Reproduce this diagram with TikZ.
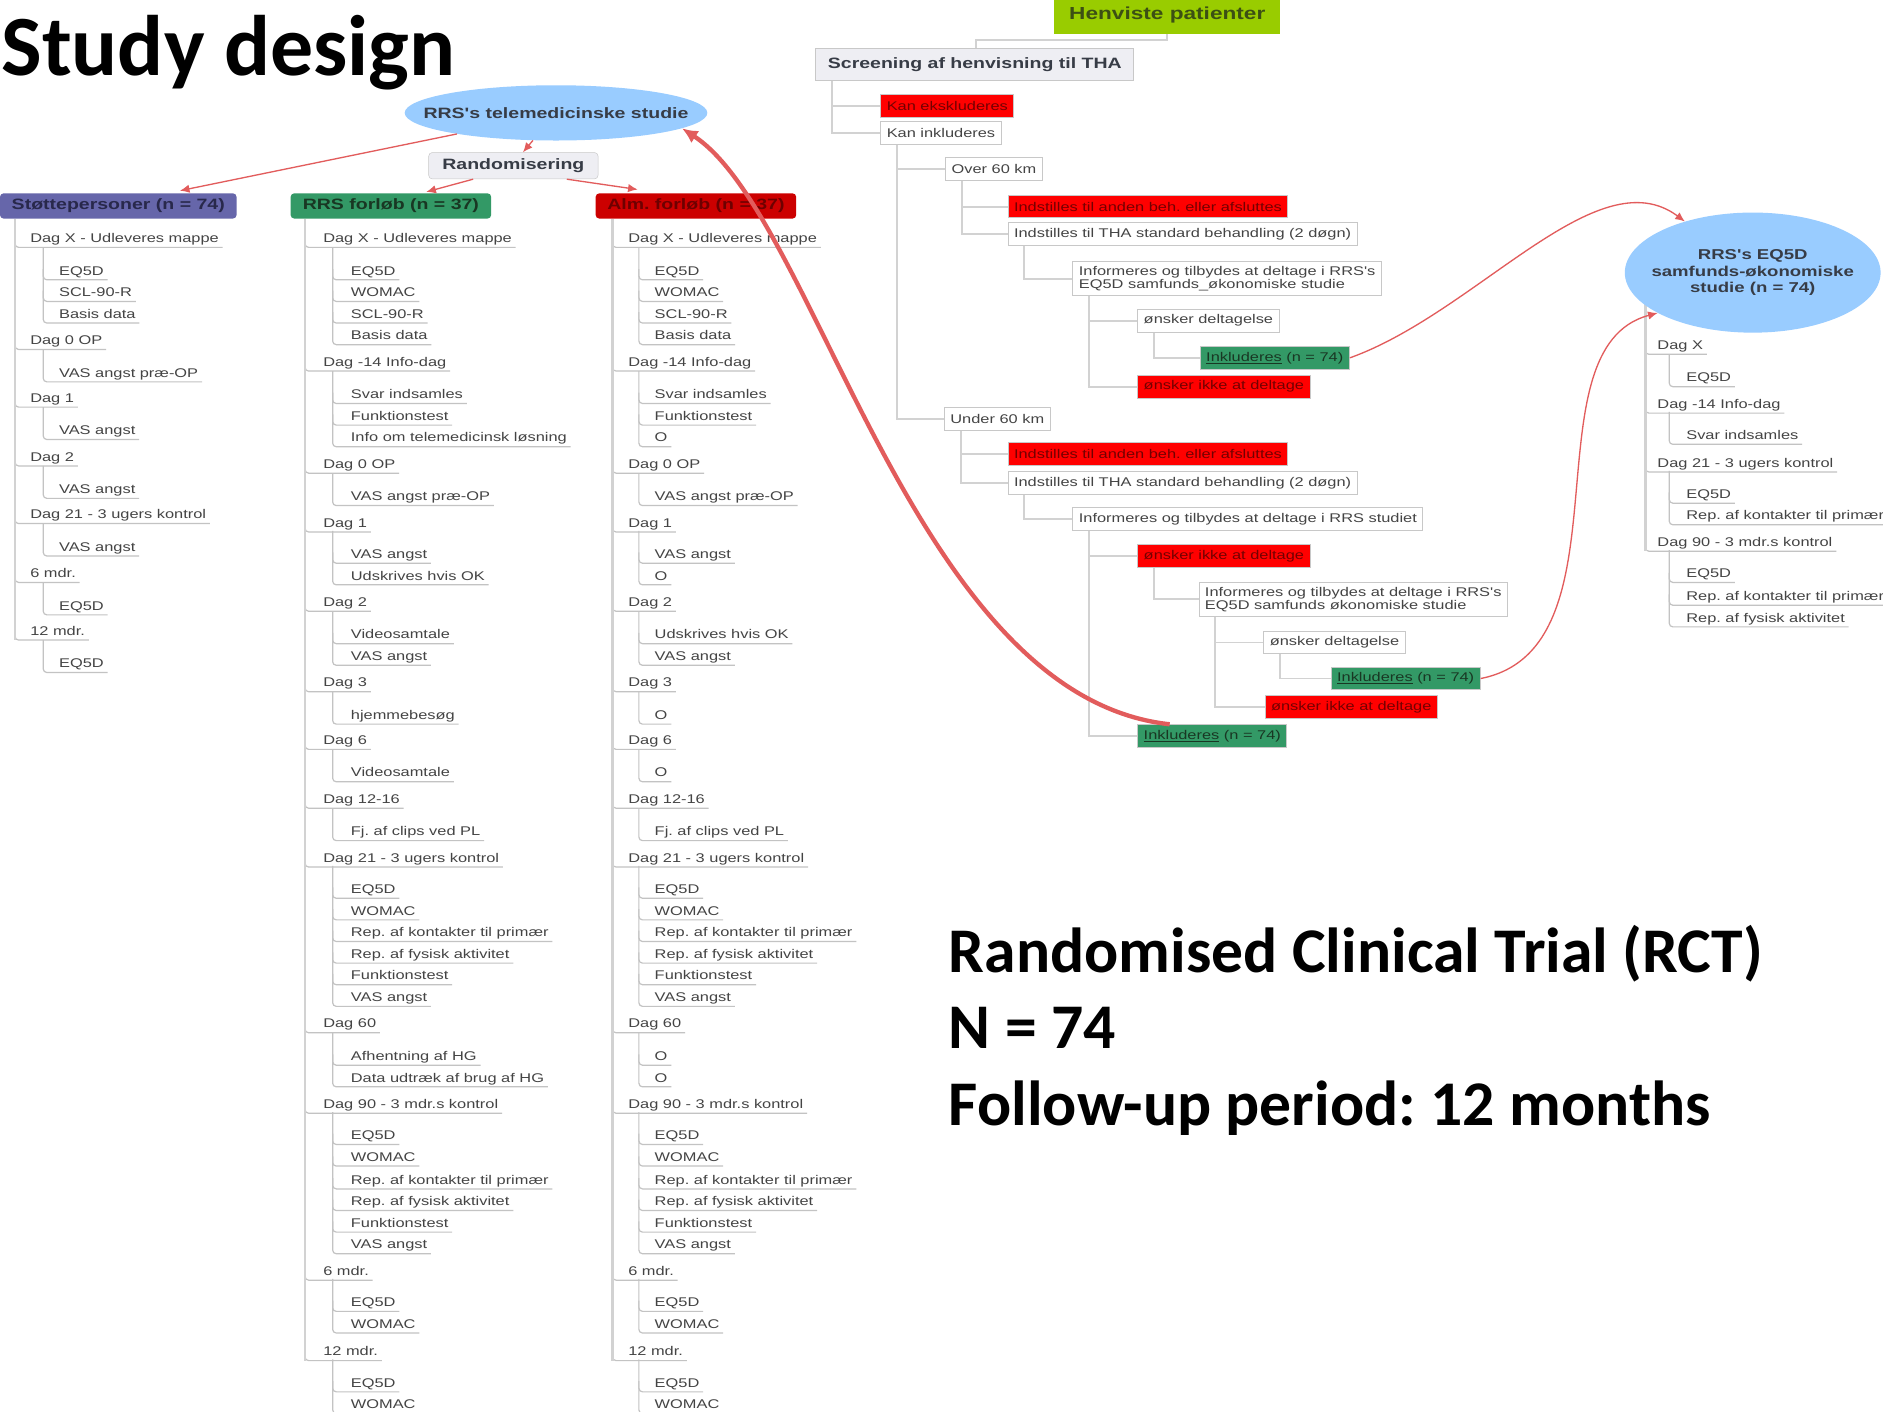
\documentclass[tikz,border=0pt]{standalone}
\usepackage{fontspec}
\setmainfont{Liberation Sans}
\newfontfamily\mf[FakeStretch=1.3]{Liberation Sans}
\newfontfamily\tf{Carlito}
\usetikzlibrary{shapes.geometric,arrows.meta}
\frenchspacing
\definecolor{txtg}{RGB}{68,68,68}
\definecolor{txtd}{RGB}{55,60,70}
\definecolor{lineg}{RGB}{195,195,195}
\definecolor{vg}{RGB}{210,210,210}
\definecolor{boxg}{RGB}{200,200,200}
\definecolor{skyb}{RGB}{153,204,255}
\definecolor{purp}{RGB}{102,102,170}
\definecolor{purpt}{RGB}{40,40,75}
\definecolor{grn}{RGB}{51,153,102}
\definecolor{grnt}{RGB}{25,55,35}
\definecolor{dred}{RGB}{204,0,0}
\definecolor{dredt}{RGB}{110,0,0}
\definecolor{lime}{RGB}{153,204,0}
\definecolor{limet}{RGB}{60,80,20}
\definecolor{redf}{RGB}{255,0,0}
\definecolor{redt}{RGB}{115,0,0}
\definecolor{arr}{RGB}{226,92,92}
\definecolor{pale}{RGB}{238,238,243}

\newcommand\Itm[6]{%
  \node[itm] (#1) at (#3,#4+4) {#5};
  \coordinate (#1c) at (#2,#4+8);
  \draw[uline] (#2,#4-#6) -- (#1c) -- (#1c -| #1.east);}
\newcommand\setcol[4]{\def\cvA{#1}\def\ctA{#2}\def\cvB{#3}\def\ctB{#4}}
\newcommand\LA[3]{\Itm{#1}{\cvA}{\ctA}{#2}{#3}{10}}
\newcommand\LB[3]{\Itm{#1}{\cvB}{\ctB}{#2}{#3}{19}}
\newcommand\Con[2]{\draw[tline] ([xshift=14pt]#1.south west) |- (#2.west);}

\begin{document}
\begin{tikzpicture}[x=1pt,y=-1pt,
  itm/.style={font=\mf\fontsize{10.5}{12}\selectfont, text=txtg, inner xsep=3pt, inner ysep=0pt, anchor=base west},
  uline/.style={draw=lineg, line width=1pt, rounded corners=3pt},
  vline/.style={draw=vg, line width=2.4pt},
  tline/.style={draw=vg, line width=1.6pt},
  bx/.style={draw=boxg, line width=0.8pt, fill=white, font=\mf\fontsize{10.5}{11}\selectfont, text=txtg, inner xsep=5pt, inner ysep=4pt, minimum height=19pt, anchor=west, align=left},
  rbx/.style={bx, fill=redf, text=redt},
  gbx/.style={bx, fill=grn, text=grnt},
  hdr/.style={rounded corners=3pt, minimum height=21pt, inner sep=0pt, font=\mf\bfseries\fontsize{12.5}{14}\selectfont},
  thinarr/.style={draw=arr, line width=1.1pt, -{Latex[length=8pt,width=7pt]}},
  thickarr/.style={draw=arr, line width=3.6pt, -{Latex[length=13pt,width=12pt]}},
  big/.style={anchor=base west, inner sep=0pt, font=\tf\bfseries\fontsize{53}{60}\selectfont, text=black}
]
\fill[white] (0,0) rectangle (1568,1175);
\useasboundingbox (0,0) rectangle (1568,1175);

% title
\node[anchor=base west,inner sep=0pt,font=\tf\bfseries\fontsize{71.5}{72}\selectfont] (title) at (1,63) {Study design};

% ---------------- left mind map ----------------
\node[ellipse, fill=skyb, minimum width=252pt, minimum height=46pt, inner sep=0pt] (tele) at (463,94) {};
\node[font=\mf\bfseries\fontsize{12.5}{14}\selectfont, text=txtd, inner sep=0pt] (telet) at (tele.center) {RRS's telemedicinske studie};
\node[draw=boxg, fill=pale, rounded corners=3pt, minimum width=141pt, minimum height=22pt, inner sep=0pt, font=\mf\bfseries\fontsize{12.5}{14}\selectfont, text=txtd] (rand) at (427.5,138) {Randomisering};

\node[hdr, fill=purp, text=purpt, minimum width=197pt] (h1) at (98.5,171.5) {Støttepersoner (n = 74)};
\node[hdr, fill=grn, text=grnt, minimum width=167pt] (h2) at (325.5,171.5) {RRS forløb (n = 37)};
\node[hdr, fill=dred, text=dredt, minimum width=167pt] (h3) at (579.5,171.5) {Alm. forløb (n = 37)};

% column 1
\setcol{12.5}{22}{36}{46}
\LA{a1}{198}{Dag X - Udleveres mappe}
\LB{a2}{225}{EQ5D}
\LB{a3}{243}{SCL-90-R}
\LB{a4}{261}{Basis data}
\LA{a5}{283}{Dag 0 OP}
\LB{a6}{310}{VAS angst præ-OP}
\LA{a7}{331}{Dag 1}
\LB{a8}{358}{VAS angst}
\LA{a9}{380}{Dag 2}
\LB{a10}{407}{VAS angst}
\LA{a11}{428}{Dag 21 - 3 ugers kontrol}
\LB{a12}{455}{VAS angst}
\LA{a13}{477}{6 mdr.}
\LB{a14}{504}{EQ5D}
\LA{a15}{525}{12 mdr.}
\LB{a16}{552}{EQ5D}
\draw[vline] (h1.south -| a1c) -- (a15c);

% column 2
\setcol{254}{266}{277}{289}
\LA{b1}{198}{Dag X - Udleveres mappe}
\LB{b2}{225}{EQ5D}
\LB{b3}{243}{WOMAC}
\LB{b4}{261}{SCL-90-R}
\LB{b5}{279}{Basis data}
\LA{b6}{301}{Dag -14 Info-dag}
\LB{b7}{328}{Svar indsamles}
\LB{b8}{346}{Funktionstest}
\LB{b9}{364}{Info om telemedicinsk løsning}
\LA{b10}{386}{Dag 0 OP}
\LB{b11}{413}{VAS angst præ-OP}
\LA{b12}{435}{Dag 1}
\LB{b13}{461}{VAS angst}
\LB{b14}{479}{Udskrives hvis OK}
\LA{b15}{501}{Dag 2}
\LB{b16}{528}{Videosamtale}
\LB{b17}{546}{VAS angst}
\LA{b18}{568}{Dag 3}
\LB{b19}{595}{hjemmebesøg}
\LA{b20}{616}{Dag 6}
\LB{b21}{643}{Videosamtale}
\LA{b22}{665}{Dag 12-16}
\LB{b23}{692}{Fj. af clips ved PL}
\LA{b24}{714}{Dag 21 - 3 ugers kontrol}
\LB{b25}{740}{EQ5D}
\LB{b26}{758}{WOMAC}
\LB{b27}{776}{Rep. af kontakter til primær}
\LB{b28}{794}{Rep. af fysisk aktivitet}
\LB{b29}{812}{Funktionstest}
\LB{b30}{830}{VAS angst}
\LA{b31}{852}{Dag 60}
\LB{b32}{879}{Afhentning af HG}
\LB{b33}{897}{Data udtræk af brug af HG}
\LA{b34}{919}{Dag 90 - 3 mdr.s kontrol}
\LB{b35}{945}{EQ5D}
\LB{b36}{963}{WOMAC}
\LB{b37}{982}{Rep. af kontakter til primær}
\LB{b38}{1000}{Rep. af fysisk aktivitet}
\LB{b39}{1018}{Funktionstest}
\LB{b40}{1036}{VAS angst}
\LA{b41}{1058}{6 mdr.}
\LB{b42}{1084}{EQ5D}
\LB{b43}{1102}{WOMAC}
\LA{b44}{1125}{12 mdr.}
\LB{b45}{1151}{EQ5D}
\LB{b46}{1169}{WOMAC}
\draw[vline] (h2.south -| b1c) -- (b44c);

% column 3
\setcol{510}{520}{532}{542}
\LA{c1}{198}{Dag X - Udleveres mappe}
\LB{c2}{225}{EQ5D}
\LB{c3}{243}{WOMAC}
\LB{c4}{261}{SCL-90-R}
\LB{c5}{279}{Basis data}
\LA{c6}{301}{Dag -14 Info-dag}
\LB{c7}{328}{Svar indsamles}
\LB{c8}{346}{Funktionstest}
\LB{c9}{364}{O}
\LA{c10}{386}{Dag 0 OP}
\LB{c11}{413}{VAS angst præ-OP}
\LA{c12}{435}{Dag 1}
\LB{c13}{461}{VAS angst}
\LB{c14}{479}{O}
\LA{c15}{501}{Dag 2}
\LB{c16}{528}{Udskrives hvis OK}
\LB{c17}{546}{VAS angst}
\LA{c18}{568}{Dag 3}
\LB{c19}{595}{O}
\LA{c20}{616}{Dag 6}
\LB{c21}{643}{O}
\LA{c22}{665}{Dag 12-16}
\LB{c23}{692}{Fj. af clips ved PL}
\LA{c24}{714}{Dag 21 - 3 ugers kontrol}
\LB{c25}{740}{EQ5D}
\LB{c26}{758}{WOMAC}
\LB{c27}{776}{Rep. af kontakter til primær}
\LB{c28}{794}{Rep. af fysisk aktivitet}
\LB{c29}{812}{Funktionstest}
\LB{c30}{830}{VAS angst}
\LA{c31}{852}{Dag 60}
\LB{c32}{879}{O}
\LB{c33}{897}{O}
\LA{c34}{919}{Dag 90 - 3 mdr.s kontrol}
\LB{c35}{945}{EQ5D}
\LB{c36}{963}{WOMAC}
\LB{c37}{982}{Rep. af kontakter til primær}
\LB{c38}{1000}{Rep. af fysisk aktivitet}
\LB{c39}{1018}{Funktionstest}
\LB{c40}{1036}{VAS angst}
\LA{c41}{1058}{6 mdr.}
\LB{c42}{1084}{EQ5D}
\LB{c43}{1102}{WOMAC}
\LA{c44}{1125}{12 mdr.}
\LB{c45}{1151}{EQ5D}
\LB{c46}{1169}{WOMAC}
\draw[vline] (h3.south -| c1c) -- (c44c);

% arrows of left map
\draw[thinarr] (tele.192) -- ([xshift=150pt,yshift=2pt]h1.north west);
\draw[thinarr] (tele.230) -- ([xshift=8pt]rand.north);
\draw[thinarr] ([xshift=-33.5pt]rand.south) -- ([xshift=29.5pt,yshift=1pt]h2.north);
\draw[thinarr] ([xshift=44.5pt]rand.south) -- ([xshift=-48.5pt,yshift=3pt]h3.north);

% ---------------- right mind map ----------------
\node[fill=lime, minimum width=188pt, minimum height=31pt, inner sep=0pt, font=\mf\bfseries\fontsize{14.5}{16}\selectfont, text=limet] (hen) at (972,12.5) {Henviste patienter};
\node[draw=boxg, line width=0.8pt, fill=pale, minimum height=27pt, inner xsep=10pt, inner ysep=0pt, anchor=west, font=\mf\bfseries\fontsize{12.5}{14}\selectfont, text=txtd] (scr) at (679,53.5) {Screening af henvisning til THA};
\coordinate (hs) at (813,33);
\draw[tline] (hen.south) |- (hs) -- (hs |- scr.north);

\node[rbx] (kex) at (733,88) {Kan ekskluderes};
\node[bx] (kin) at (733,111) {Kan inkluderes};
\node[bx] (o60) at (787,141) {Over 60 km};
\node[rbx] (o60a) at (839,172) {Indstilles til anden beh. eller afsluttes};
\node[bx] (o60b) at (839,195) {Indstilles til THA standard behandling (2 døgn)};
\node[bx] (o60c) at (893,232) {Informeres og tilbydes at deltage i RRS's\\EQ5D samfunds\_økonomiske studie};
\node[bx] (o60d) at (947,267) {ønsker deltagelse};
\node[gbx] (upInk) at (999,298) {\underline{Inkluderes} (n = 74)};
\node[rbx] (o60e) at (947,322) {ønsker ikke at deltage};
\node[bx] (u60) at (786,349) {Under 60 km};
\node[rbx] (u60a) at (839,378) {Indstilles til anden beh. eller afsluttes};
\node[bx] (u60b) at (839,402) {Indstilles til THA standard behandling (2 døgn)};
\node[bx] (u60c) at (893,432) {Informeres og tilbydes at deltage i RRS studiet};
\node[rbx] (u60d) at (947,463) {ønsker ikke at deltage};
\node[bx] (u60e) at (998,499) {Informeres og tilbydes at deltage i RRS's\\EQ5D samfunds økonomiske studie};
\node[bx] (u60f) at (1052,535) {ønsker deltagelse};
\node[gbx] (lowInkB) at (1108,565) {\underline{Inkluderes} (n = 74)};
\node[rbx] (u60g) at (1053,589) {ønsker ikke at deltage};
\node[gbx] (lowInk) at (947,613) {\underline{Inkluderes} (n = 74)};

\Con{scr}{kex}
\Con{scr}{kin}
\Con{kin}{o60}
\Con{kin}{u60}
\Con{o60}{o60a}
\Con{o60}{o60b}
\Con{o60b}{o60c}
\Con{o60c}{o60d}
\Con{o60c}{o60e}
\Con{o60d}{upInk}
\Con{u60}{u60a}
\Con{u60}{u60b}
\Con{u60b}{u60c}
\Con{u60c}{u60d}
\Con{u60c}{lowInk}
\Con{u60d}{u60e}
\Con{u60e}{u60f}
\Con{u60e}{u60g}
\Con{u60f}{lowInkB}

% EQ5D tree
\setcol{1370}{1377}{1390}{1401}
\LA{e1}{287}{Dag X}
\LB{e2}{314}{EQ5D}
\LA{e3}{336}{Dag -14 Info-dag}
\LB{e4}{362}{Svar indsamles}
\LA{e5}{385}{Dag 21 - 3 ugers kontrol}
\LB{e6}{411}{EQ5D}
\LB{e7}{429}{Rep. af kontakter til primær}
\LA{e8}{451}{Dag 90 - 3 mdr.s kontrol}
\LB{e9}{477}{EQ5D}
\LB{e10}{496}{Rep. af kontakter til primær}
\LB{e11}{514}{Rep. af fysisk aktivitet}
\coordinate (eqv) at (1370,240);
\draw[vline] (eqv) -- (e8c);

\node[ellipse, fill=skyb, minimum width=213pt, minimum height=100pt, inner sep=0pt] (eq) at (1459.5,227) {};
\node[font=\mf\bfseries\fontsize{11.9}{13.5}\selectfont, text=txtd, align=center, inner sep=0pt] (eqt) at (eq.center) {RRS's EQ5D\\samfunds-økonomiske\\studie (n = 74)};

% red arrows
\draw[thinarr] (upInk.east) .. controls (1230,260) and (1330,130) .. (eq.143);
\draw[thinarr] (lowInkB.east) .. controls (1360,540) and (1270,290) .. (eq.203);
\draw[thickarr] ([xshift=27pt]lowInk.north west) .. controls (760,580) and (680,180) .. (tele.-7);

% RCT text
\node[big] (rct1) at (790,810) {Randomised Clinical Trial (RCT)};
\node[big] (rct2) at (790,873) {N = 74};
\node[big] (rct3) at (790,937) {Follow-up period: 12 months};
\end{tikzpicture}
\end{document}
